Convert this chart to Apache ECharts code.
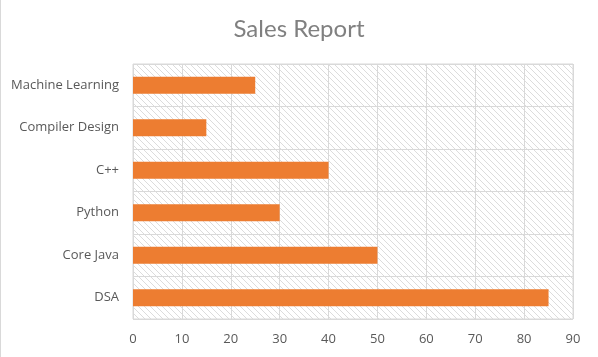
<!DOCTYPE html>
<html><head><meta charset="utf-8">
<script src="https://cdn.jsdelivr.net/npm/echarts@6/dist/echarts.min.js"></script>
<style>html,body{margin:0;padding:0;background:#fff}#c{width:598px;height:357px}</style>
</head><body><div id="c"></div>
<script>
const categories = ['DSA', 'Core Java', 'Python', 'C++', 'Compiler Design', 'Machine Learning'];
const sales = [85, 50, 30, 40, 15, 25];
const xTicks = [0, 10, 20, 30, 40, 50, 60, 70, 80, 90];

const pc = document.createElement('canvas');
pc.width = 6; pc.height = 6;
const g = pc.getContext('2d');
g.fillStyle = '#ffffff'; g.fillRect(0, 0, 6, 6);
g.strokeStyle = '#dcdcdc'; g.lineWidth = 1;
g.beginPath();
g.moveTo(-1, -1); g.lineTo(7, 7);
g.moveTo(-4, 2); g.lineTo(4, 10);
g.moveTo(2, -4); g.lineTo(10, 4);
g.stroke();

const chart = echarts.init(document.getElementById('c'), null, {renderer: 'canvas'});
const font = '"Open Sans", "Noto Sans", sans-serif';
chart.setOption({
  animation: false,
  title: {
    text: 'Sales Report', left: 'center', top: 12,
    textStyle: {color: '#808080', fontSize: 24, fontWeight: 'normal', fontFamily: 'Lato, "Open Sans", sans-serif'}
  },
  graphic: [{type: 'rect', left: 0, top: 0, shape: {width: 1, height: 357}, style: {fill: '#d9d9d9'}}],
  grid: {
    left: 133, right: 25, top: 64, bottom: 38, show: true,
    backgroundColor: {image: pc, repeat: 'repeat'}, borderColor: '#d9d9d9', borderWidth: 1
  },
  xAxis: {
    type: 'value', min: xTicks[0], max: xTicks[xTicks.length - 1], interval: 10,
    axisLine: {show: false}, axisTick: {show: false},
    splitLine: {lineStyle: {color: '#d9d9d9'}},
    axisLabel: {color: '#595959', fontSize: 13, fontFamily: font, margin: 14}
  },
  yAxis: {
    type: 'category', data: categories,
    axisLine: {show: false}, axisTick: {show: false},
    splitLine: {show: true, lineStyle: {color: '#d9d9d9'}},
    axisLabel: {color: '#595959', fontSize: 13, fontFamily: font, margin: 14}
  },
  series: [{
    type: 'bar', data: sales, barWidth: 17,
    itemStyle: {color: '#ED7D31'}
  }]
});
</script></body></html>
